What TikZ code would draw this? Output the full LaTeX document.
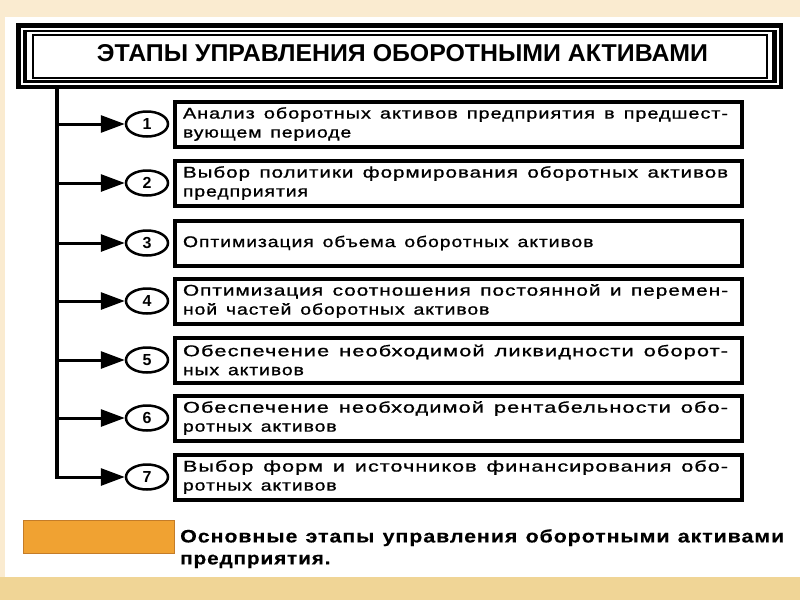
\documentclass[tikz,border=0pt]{standalone}
\usepackage{graphicx}
\usepackage{fontspec}
\setmainfont{Liberation Sans}
\newfontfamily\boxfont[FakeStretch=1.25,LetterSpace=6,WordSpace=1.4,FakeBold=1]{Liberation Sans}
\newfontfamily\capfont[FakeStretch=1.15,LetterSpace=5,WordSpace=1.2,FakeBold=0.4]{Liberation Sans}
\usetikzlibrary{arrows.meta,shapes.geometric,positioning}
\definecolor{topband}{RGB}{250,235,208}
\definecolor{botband}{RGB}{240,213,150}
\definecolor{keyfill}{RGB}{240,162,50}
\definecolor{keyline}{RGB}{196,124,40}
\tikzset{
  stage/.style={draw,line width=4pt,minimum width=567pt,minimum height=45pt,
    inner sep=0pt,text width=551pt,align=flush left,
    font=\boxfont\fontsize{15.5}{19}\selectfont},
  num/.style={draw,ellipse,line width=2.5pt,minimum width=42pt,minimum height=25pt,
    inner sep=0pt,font=\bfseries\fontsize{16}{16}\selectfont},
  branch/.style={line width=3pt,-{Triangle[length=24pt,width=17pt]}},
  trunk/.style={line width=4pt},
}
\newcommand{\fullline}[1]{\resizebox{545pt}{\height}{#1}}
\begin{document}
\begin{tikzpicture}[x=1pt,y=-1pt]
\useasboundingbox (0,0) rectangle (800,600);
% background
\fill[topband] (0,0) rectangle (800,600);
\fill[white] (5,17) rectangle (800,577);
\fill[botband] (0,577) rectangle (800,600);
% title frame
\fill[black] (16,23) rectangle (783,89);
\fill[white] (20.5,27.5) rectangle (778.5,84.5);
\fill[black] (22.5,29.5) rectangle (776.5,82.5);
\fill[white] (27,32) rectangle (772,80);
\draw[line width=2pt] (32.5,34.5) rectangle (766.5,77.5);
\node (title) at (402.5,53.5) {\resizebox{611pt}{17pt}{\bfseries ЭТАПЫ УПРАВЛЕНИЯ ОБОРОТНЫМИ АКТИВАМИ}};
% stages
\node[stage] (b1) at (458.5,124) {\fullline{Анализ оборотных активов предприятия в предшест-}\\вующем периоде};
\node[stage] (b2) at (458.5,183) {\fullline{Выбор политики формирования оборотных активов}\\предприятия};
\node[stage] (b3) at (458.5,243) {Оптимизация объема оборотных активов};
\node[stage] (b4) at (458.5,301) {\fullline{Оптимизация соотношения постоянной и перемен-}\\ной частей оборотных активов};
\node[stage] (b5) at (458.5,360) {\fullline{Обеспечение необходимой ликвидности оборот-}\\ных активов};
\node[stage] (b6) at (458.5,418) {\fullline{Обеспечение необходимой рентабельности обо-}\\ротных активов};
\node[stage] (b7) at (458.5,477) {\fullline{Выбор форм и источников финансирования обо-}\\ротных активов};
% numbers
\node[num] (c1) at (147,124) {1};
\node[num] (c2) at (147,183) {2};
\node[num] (c3) at (147,243) {3};
\node[num] (c4) at (147,301) {4};
\node[num] (c5) at (147,360) {5};
\node[num] (c6) at (147,418) {6};
\node[num] (c7) at (147,477) {7};
% trunk and branches
\coordinate (top) at (57,89);
\coordinate (t1) at (57,124);
\coordinate (t2) at (57,183);
\coordinate (t3) at (57,243);
\coordinate (t4) at (57,301);
\coordinate (t5) at (57,360);
\coordinate (t6) at (57,418);
\coordinate (t7) at (57,477);
\draw[trunk] (top) -- ([yshift=-1.5pt]t7);
\draw[branch] (t1) -- (c1.west);
\draw[branch] (t2) -- (c2.west);
\draw[branch] (t3) -- (c3.west);
\draw[branch] (t4) -- (c4.west);
\draw[branch] (t5) -- (c5.west);
\draw[branch] (t6) -- (c6.west);
\draw[branch] (t7) -- (c7.west);
% key
\draw[keyline,fill=keyfill,line width=1pt] (23,520) rectangle (174,553);
\node[anchor=north west,inner sep=0pt,text width=604pt,align=flush left,
  font=\capfont\bfseries\fontsize{18}{22}\selectfont] (cap) at (180,529)
  {\resizebox{604pt}{\height}{Основные этапы управления оборотными активами}\\предприятия.};
\end{tikzpicture}
\end{document}
